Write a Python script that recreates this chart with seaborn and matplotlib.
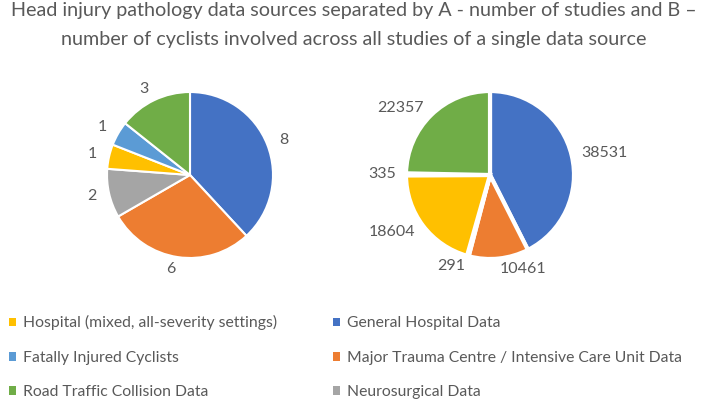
import matplotlib.pyplot as plt
import seaborn as sns
from matplotlib.patches import Patch

# data sources, in the order the slices run clockwise from 12 o'clock
sources = ['General Hospital Data',
           'Major Trauma Centre / Intensive Care Unit Data',
           'Neurosurgical Data',
           'Hospital (mixed, all-severity settings)',
           'Fatally Injured Cyclists',
           'Road Traffic Collision Data']
studies = [8, 6, 2, 1, 1, 3]
cyclists = [38531, 10461, 291, 18604, 335, 22357]
colors = ['#4472C4', '#ED7D31', '#A5A5A5', '#FFC000', '#5B9BD5', '#70AD47']
legend_order = [3, 4, 5, 0, 1, 2]

sns.set_theme(style='white')
plt.rcParams['font.family'] = ['Lato', 'DejaVu Sans']
text_color = '#595959'

W, H = 708, 399
fig = plt.figure(figsize=(W / 100, H / 100), dpi=100)


def pie_axes(cx, cy, r, lim=1.4):
    # square axes around a pie centre given in pixels (from top-left)
    half = r * lim
    ax = fig.add_axes([(cx - half) / W, 1 - (cy + half) / H, 2 * half / W, 2 * half / H])
    return ax


ax1 = pie_axes(190, 175, 83)
ax1.pie(studies, labels=[str(v) for v in studies], colors=colors, startangle=90,
        counterclock=False, labeldistance=1.15,
        wedgeprops=dict(edgecolor='white', linewidth=1.5),
        textprops=dict(color=text_color, fontsize=11.5))
ax1.set_xlim(-1.4, 1.4)
ax1.set_ylim(-1.4, 1.4)

ax2 = pie_axes(490, 175, 84)
ax2.pie(cyclists, labels=[str(v) for v in cyclists], colors=colors, startangle=90,
        counterclock=False, labeldistance=1.12,
        wedgeprops=dict(edgecolor='white', linewidth=3),
        textprops=dict(color=text_color, fontsize=11.5))
ax2.set_xlim(-1.4, 1.4)
ax2.set_ylim(-1.4, 1.4)

fig.suptitle('Head injury pathology data sources separated by A - number of studies and B \u2013\n'
             'number of cyclists involved across all studies of a single data source',
             x=0.5, y=0.995, fontsize=14.2, color=text_color, linespacing=1.85)

handles = [Patch(facecolor=colors[i], edgecolor='none') for i in legend_order]
labels = [sources[i] for i in legend_order]
fig.legend(handles, labels, ncol=2, loc='upper left', bbox_to_anchor=(0.0, 1 - 306 / H),
           frameon=False, fontsize=11.3, handlelength=0.45, handleheight=0.45,
           handletextpad=0.4, columnspacing=3.6, labelspacing=1.3,
           labelcolor=text_color, borderaxespad=0.2)

fig.savefig('out.png', dpi=100, facecolor='white')
